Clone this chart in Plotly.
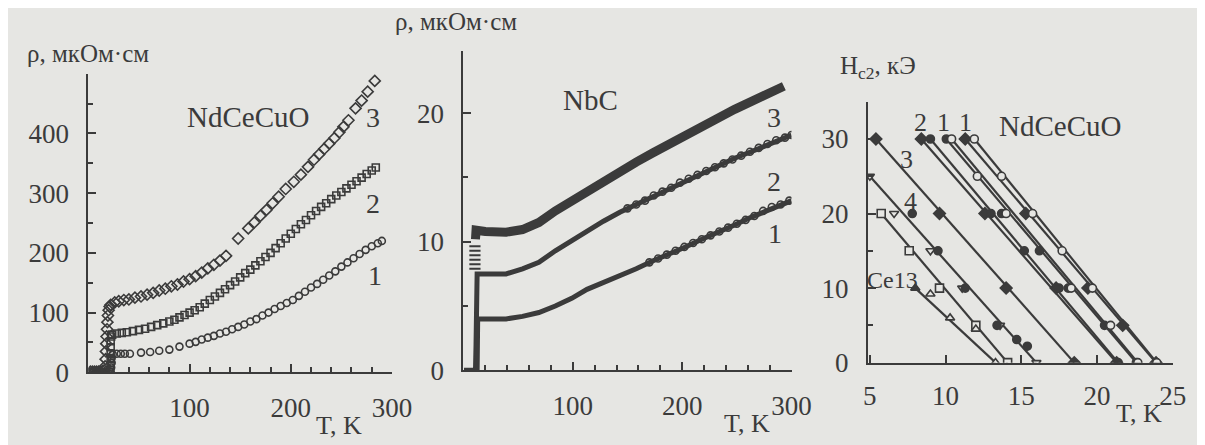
import plotly.graph_objects as go

INK = "#3b3b3b"
BG = "#e6e6e3"
SERIF = "Liberation Serif"
W, H = 1205, 445

# ---------------- Panel 1: NdCeCuO, rho(T) ----------------
nd1_T = [3, 7, 11, 15, 19, 22, 22.5, 23, 23, 24, 28, 32, 36, 41, 52, 61, 70, 80, 90, 100, 106, 112, 118, 124,
         130, 136, 142, 148, 154, 160, 166, 172, 178, 184, 190, 196, 202, 208, 214, 220, 226, 232, 238, 244,
         250, 256, 262, 268, 274, 280, 286, 290]
nd1_R = [0, 0, 0, 0, 0, 1, 8, 16, 24, 30, 31, 31, 31, 31, 33, 34, 36, 38, 43, 48, 51, 55, 58, 61,
         65, 68, 72, 76, 80, 85, 89, 95, 100, 106, 111, 116, 121, 128, 135, 142, 148, 155, 162, 169,
         177, 184, 191, 198, 205, 211, 216, 220]
nd2_T = [2, 5, 8, 11, 14, 17, 20, 21.5, 22, 22, 22, 22, 22, 22.5, 23.5, 28, 33, 38, 44, 50, 56, 62, 68, 74,
         80, 85, 90, 95, 100, 105, 110, 115, 120, 125, 130, 135, 140, 145, 150, 155, 160, 165, 170, 175,
         180, 185, 190, 195, 200, 205, 210, 215, 220, 225, 230, 235, 240, 245, 250, 255, 260, 265, 270,
         275, 280, 284]
nd2_R = [0, 0, 0, 0, 0, 0, 1, 4, 12, 22, 32, 42, 52, 60, 63, 65, 66, 67, 69, 71, 73, 76, 79, 82,
         85, 88, 92, 96, 100, 104, 109, 115, 121, 127, 133, 139, 146, 152, 159, 166, 172, 179, 186, 193,
         200, 208, 216, 224, 232, 240, 248, 255, 263, 270, 277, 283, 290, 296, 302, 308, 314, 320, 326,
         332, 338, 343]
nd3_T = [2, 4, 6, 8, 10, 12, 14, 15.5, 16.5, 17, 17.3, 17.6, 18, 18.4, 18.8, 19.3, 20, 21, 22, 26, 30, 35,
         40, 46, 52, 58, 64, 70, 76, 82, 88, 94, 100, 106, 112, 118, 124, 130, 136, 148, 158, 164, 170,
         176, 182, 188, 195, 203, 210, 217, 223, 228, 233, 238, 243, 248, 252, 257, 264, 270, 276, 283]
nd3_R = [1, 1, 1, 1, 1, 1, 2, 3, 10, 22, 35, 48, 60, 72, 84, 95, 104, 110, 113, 117, 119, 121,
         122, 125, 127, 130, 133, 137, 140, 144, 147, 152, 156, 161, 167, 174, 180, 187, 195, 224, 241, 251, 262,
         272, 283, 294, 307, 319, 331, 344, 356, 365, 374, 383, 392, 402, 411, 422, 442, 455, 470, 488]

# ---------------- Panel 2: NbC, rho(T) ----------------
nb3_T = [11, 11, 11.5, 20, 30, 39, 54, 69, 84, 99, 113, 128, 143, 158, 173, 188, 203, 218, 233, 248, 263, 278, 293]
nb3_R = [10.2, 10.8, 10.9, 10.8, 10.8, 10.75, 10.95, 11.5, 12.4, 13.2, 13.9, 14.7, 15.4, 16.2, 16.9, 17.6,
         18.3, 19.0, 19.7, 20.3, 20.9, 21.5, 22.1]
nb3_hatch_T = [10.5, 10.5, 10.5, 10.5, 10.5, 10.5]
nb3_hatch_R = [7.9, 8.25, 8.6, 8.95, 9.3, 9.65]
nb2_T = [0.5, 4, 8, 11, 11.5, 11.5, 12.5, 20, 30, 39, 54, 69, 84, 99, 113, 128, 143, 158, 173, 188, 203, 218,
         233, 248, 263, 280, 300]
nb2_R = [0, 0, 0, 0, 2, 7.4, 7.5, 7.5, 7.5, 7.5, 7.9, 8.4, 9.3, 10.1, 10.9, 11.6, 12.3, 12.9, 13.5, 14.2,
         14.8, 15.4, 15.9, 16.5, 17.0, 17.6, 18.3]
nb2_mT = [150, 158, 166, 174, 182, 190, 198, 206, 214, 222, 230, 238, 246, 254, 262, 270, 278, 286, 294, 300]
nb2_mR = [12.6, 12.9, 13.2, 13.6, 13.9, 14.2, 14.6, 14.9, 15.2, 15.5, 15.8, 16.1, 16.4, 16.7, 17.0, 17.3,
          17.6, 17.9, 18.1, 18.3]
nb1_T = [12.5, 12.5, 13, 25, 39, 54, 69, 84, 99, 113, 128, 143, 158, 173, 188, 203, 218, 233, 248, 263, 280, 300]
nb1_R = [0, 3.9, 4.0, 4.0, 4.0, 4.2, 4.5, 5.0, 5.6, 6.3, 6.8, 7.4, 7.9, 8.5, 9.0, 9.6, 10.2, 10.7, 11.3,
         11.9, 12.5, 13.2]
nb1_mT = [170, 178, 186, 194, 202, 210, 218, 226, 234, 242, 250, 258, 266, 274, 282, 290, 298]
nb1_mR = [8.4, 8.7, 9.0, 9.3, 9.6, 9.9, 10.2, 10.5, 10.8, 11.1, 11.4, 11.7, 12.0, 12.4, 12.7, 12.9, 13.2]

# ---------------- Panel 3: Hc2(T) ----------------
hcA_T = [5.75, 7.6, 9.6, 12.0, 14.1];            hcA_H = [20, 15, 10, 5, 0]        # Ce13, squares
hcB_T = [8.0, 10.3, 13.3];                       hcB_H = [10, 6.0, 0]              # triangles (line)
hcBx_T = [9.0, 12.0];                            hcBx_H = [9.2, 4.5]               # extra open triangles
hcC_T = [5.0, 6.6, 9.0, 11.1, 13.6, 16.0];       hcC_H = [25, 20, 15, 10, 5, 0]    # curve 4, open tri-down
hcD_T = [7.8, 9.5, 11.3, 13.4, 14.7, 15.4];      hcD_H = [20, 15, 10, 5, 3.1, 2.2] # curve 4, filled circles
hcE_T = [5.4, 9.6, 14.0, 18.5];                  hcE_H = [30, 20, 10, 0]           # curve 3
hcL1_T = [8.4, 12.6, 17.3, 21.3];                hcL1_H = [30, 20, 10, 0]
hcL2_T = [9.0, 13.0, 15.2, 17.5, 21.4];          hcL2_H = [30, 20, 15, 10, 0]
hcL3_T = [10.05, 13.7, 16.2, 18.1, 20.5, 22.6];  hcL3_H = [30, 20, 15, 10, 5, 0]
hcL4_T = [10.4, 12.1, 14.0, 18.3, 20.9, 22.7];   hcL4_H = [30, 25, 20, 10, 5, 0]
hcL5_T = [11.3, 15.3, 19.4, 21.7, 23.9];         hcL5_H = [30, 20, 10, 5, 0]
hcL6_T = [11.9, 13.7, 15.75, 17.7, 19.7, 23.95]; hcL6_H = [30, 25, 20, 15, 10, 0]

# tick labels
p1_xticks = [100, 200, 300]; p1_yticks = [0, 100, 200, 300, 400]
p2_xticks = [100, 200, 300]; p2_yticks = [0, 10, 20]
p3_xticks = [5, 10, 15, 20, 25]; p3_yticks = [0, 10, 20, 30]

fig = go.Figure()

def sc(x, y, xa, ya, **kw):
    fig.add_trace(go.Scatter(x=x, y=y, xaxis=xa, yaxis=ya, hoverinfo="skip", **kw))

mk = lambda sym, size: dict(symbol=sym, size=size, color=INK, line=dict(color=INK, width=1.6))
# Panel 1 traces
sc(nd1_T, nd1_R, "x", "y", mode="markers", marker=mk("circle-open", 7))
sc(nd2_T, nd2_R, "x", "y", mode="markers", marker=mk("square-open", 7))
sc(nd3_T, nd3_R, "x", "y", mode="markers", marker=mk("diamond-open", 8.5))

# Panel 2 traces
sc(nb2_T, nb2_R, "x2", "y2", mode="lines", line=dict(color=INK, width=5))
sc(nb1_T, nb1_R, "x2", "y2", mode="lines", line=dict(color=INK, width=5))
sc(nb2_mT, nb2_mR, "x2", "y2", mode="markers", marker=mk("circle-open", 7))
sc(nb1_mT, nb1_mR, "x2", "y2", mode="markers", marker=mk("circle-open", 7))
sc(nb3_T, nb3_R, "x2", "y2", mode="lines", line=dict(color=INK, width=9))
sc(nb3_hatch_T, nb3_hatch_R, "x2", "y2", mode="markers",
   marker=dict(symbol="line-ew", size=8, line=dict(color=INK, width=2)))

# Panel 3 traces
def hc(T, Hh, sym, filled=False, line=True, size=8):
    if line:
        sc([T[0], T[-1]], [Hh[0], Hh[-1]], "x3", "y3", mode="lines", line=dict(color=INK, width=2.2))
    sc(T, Hh, "x3", "y3", mode="markers",
       marker=dict(symbol=sym, size=size, color=INK if filled else BG, line=dict(color=INK, width=1.6)))

hc(hcA_T, hcA_H, "square")
hc(hcB_T, hcB_H, "triangle-up")
hc(hcBx_T, hcBx_H, "triangle-up", line=False)
sc(hcB_T[:1], hcB_H[:1], "x3", "y3", mode="markers", marker=dict(symbol="triangle-up", size=8, color=INK))
hc(hcC_T, hcC_H, "triangle-down")
hc(hcD_T, hcD_H, "circle", filled=True, line=False, size=8)
hc(hcE_T, hcE_H, "diamond", filled=True, size=9)
hc(hcL1_T, hcL1_H, "diamond", filled=True, size=9)
hc(hcL2_T, hcL2_H, "circle", filled=True)
hc(hcL3_T, hcL3_H, "circle", filled=True)
hc(hcL4_T, hcL4_H, "circle")
hc(hcL5_T, hcL5_H, "diamond", filled=True, size=9)
hc(hcL6_T, hcL6_H, "circle")

def dom_x(a, b):
    return [a / W, b / W]

def dom_y(bottom_px, top_px):
    return [1 - bottom_px / H, 1 - top_px / H]

tickfont = dict(family=SERIF, size=27, color=INK)

def axis(domain, rng, tickvals, minor_vals, anchor, standoff):
    d = dict(domain=domain, range=rng, anchor=anchor, showline=True, linecolor=INK, linewidth=2,
             ticks="inside", ticklen=8, tickwidth=2, tickcolor=INK, showgrid=False, zeroline=False,
             tickmode="array", tickvals=tickvals, ticktext=[str(v) for v in tickvals],
             tickfont=tickfont, ticklabelstandoff=standoff)
    if minor_vals:
        d["minor"] = dict(tickmode="array", tickvals=minor_vals, ticks="inside", ticklen=5,
                          tickwidth=1.5, tickcolor=INK, showgrid=False)
    return d

fig.update_layout(
    width=W, height=H, margin=dict(l=0, r=0, t=0, b=0),
    paper_bgcolor=BG, plot_bgcolor=BG, showlegend=False,
    font=dict(family=SERIF, color=INK),
    xaxis=axis(dom_x(77, 387), [0, 300], p1_xticks, list(range(20, 300, 20)), "y", 10),
    yaxis=axis(dom_y(377, 68), [0, 500], p1_yticks, list(range(50, 500, 50)), "x", 12),
    xaxis2=axis(dom_x(460, 795), [0, 300], p2_xticks, list(range(20, 300, 20)), "y2", 10),
    yaxis2=axis(dom_y(375, 45), [0, 24.8], p2_yticks, [5, 15, 24.8], "x2", 12),
    xaxis3=axis(dom_x(873, 1185), [4.87, 25.05], p3_xticks, None, "y3", 8),
    yaxis3=axis(dom_y(367, 97), [0, 35], p3_yticks, [5, 15, 25, 35], "x3", 12),
)

def txt(s, px, py, size=25, xanchor="center"):
    fig.add_annotation(text=s, x=px / W, y=1 - py / H, xref="paper", yref="paper",
                       showarrow=False, xanchor=xanchor, yanchor="middle",
                       font=dict(family=SERIF, size=size, color=INK))

# Panel 1 texts
txt("ρ, мкОм·см", 12, 47, 25, "left")
txt("NdCeCuO", 240, 113, 29)
txt("3", 368, 113, 28); txt("2", 368, 202, 28); txt("1", 370, 277, 28)
txt("T, K", 333, 432, 26)
# Panel 2 texts
txt("ρ, мкОм·см", 388, 14, 25, "left")
txt("NbC", 590, 95, 29)
txt("3", 777, 113, 28); txt("2", 777, 180, 28); txt("1", 778, 233, 28)
txt("T, K", 750, 430, 26)
# Panel 3 texts
txt("H<sub>c2</sub>, кЭ", 842, 62, 25, "left")
txt("NdCeCuO", 1069, 122, 29)
txt("2", 927, 118, 26); txt("1", 950, 118, 26); txt("1", 973, 118, 26)
txt("3", 912, 157, 26); txt("4", 917, 200, 26)
txt("Ce13", 898, 282, 24)
txt("T, K", 1150, 420, 26)

fig.write_html("out.html")
